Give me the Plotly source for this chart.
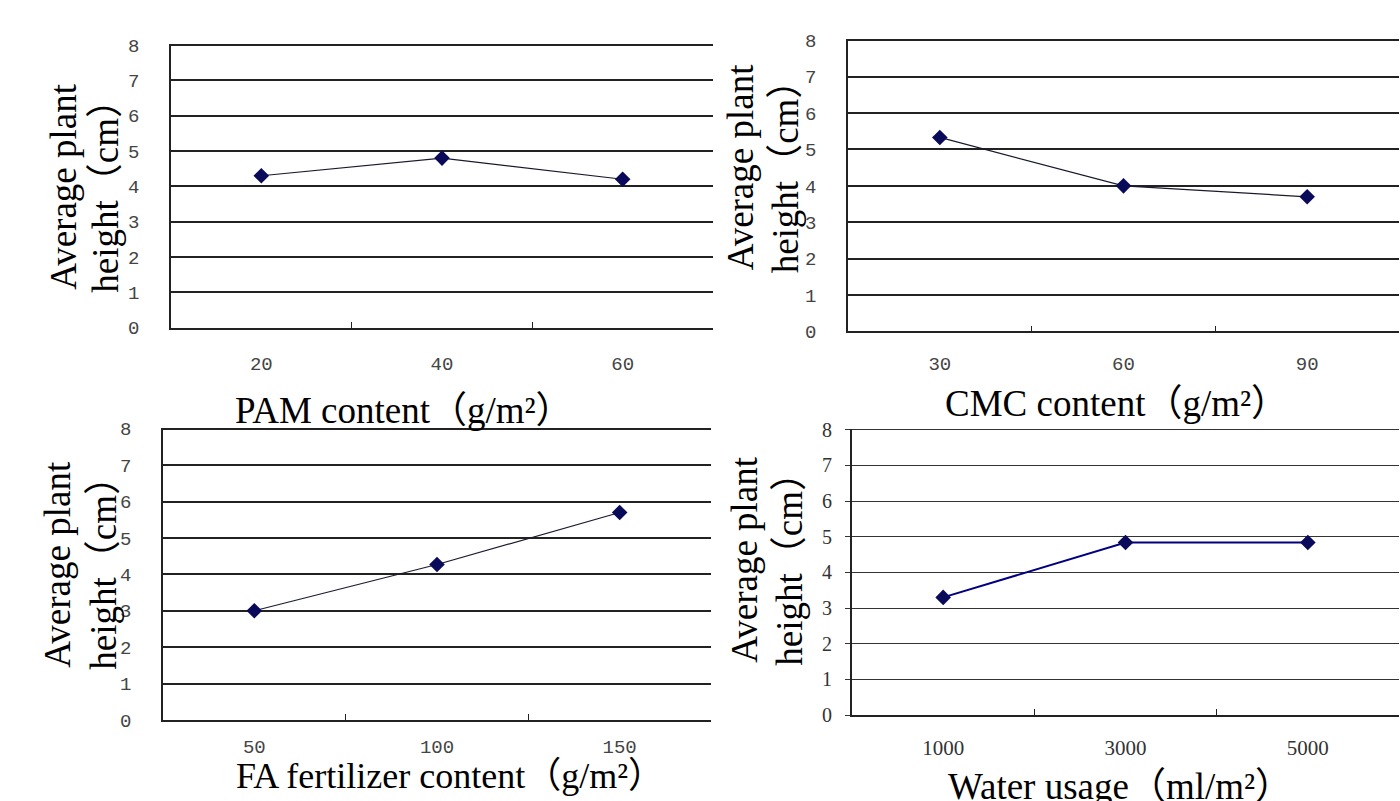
import plotly.graph_objects as go

# ---- data ----
pam_cats = ["20", "40", "60"]
pam_vals = [4.3, 4.8, 4.2]

cmc_cats = ["30", "60", "90"]
cmc_vals = [5.33, 4.0, 3.7]

fa_cats = ["50", "100", "150"]
fa_vals = [3.0, 4.27, 5.7]

water_cats = ["1000", "3000", "5000"]
water_vals = [3.3, 4.84, 4.84]

y_ticks = [0, 1, 2, 3, 4, 5, 6, 7, 8]

W, H = 1400, 801


def px(x):
    return x / W


def py(y):
    return 1 - y / H


panels = [
    dict(cats=pam_cats, vals=pam_vals, x0=171, x1=713, yt=35, yb=327,
         lc="#1a1a2e", lw=1.2, mono=True, xstand=18),
    dict(cats=cmc_cats, vals=cmc_vals, x0=848, x1=1399, yt=30, yb=331,
         lc="#1a1a2e", lw=1.2, mono=True, xstand=14),
    dict(cats=fa_cats, vals=fa_vals, x0=163, x1=711, yt=430, yb=731,
         lc="#1a1a2e", lw=1.2, mono=True, xstand=8),
    dict(cats=water_cats, vals=water_vals, x0=852, x1=1399, yt=431, yb=726,
         lc="#000080", lw=2, mono=False, xstand=13),
]

fig = go.Figure()

for i, p in enumerate(panels, start=1):
    xa = "x" if i == 1 else f"x{i}"
    ya = "y" if i == 1 else f"y{i}"
    fig.add_trace(go.Scatter(
        x=p["cats"], y=p["vals"], xaxis=xa, yaxis=ya,
        mode="lines+markers",
        line=dict(color=p["lc"], width=p["lw"]),
        marker=dict(symbol="diamond", size=12, color="#0a0a5a"),
        showlegend=False, hoverinfo="skip",
    ))
    if p["mono"]:
        xfont = dict(family="Liberation Mono, monospace", size=19, color="#444444")
        yfont = dict(family="Liberation Mono, monospace", size=19, color="#444444")
        gridw = 1.8
        gridc = "#222222"
        yticks = ""
        ystand = 26
    else:
        xfont = dict(family="Liberation Serif, serif", size=21, color="#333333")
        yfont = dict(family="Liberation Serif, serif", size=20, color="#333333")
        gridw = 1.1
        gridc = "#333333"
        yticks = "outside"
        ystand = 9
    xkey = "xaxis" if i == 1 else f"xaxis{i}"
    ykey = "yaxis" if i == 1 else f"yaxis{i}"
    fig.update_layout({
        xkey: dict(
            domain=[px(p["x0"]), px(p["x1"])],
            anchor=ya, type="category", range=[-0.5, 2.5],
            showline=True, linecolor="#222222", linewidth=1.8,
            ticks="inside", tickson="boundaries", ticklen=6,
            tickcolor="#222222", tickwidth=1.3,
            showgrid=False, zeroline=False,
            tickfont=xfont, ticklabelstandoff=p["xstand"],
        ),
        ykey: dict(
            domain=[py(p["yb"]), py(p["yt"])],
            anchor=xa, range=[0, 8.03], tickvals=y_ticks,
            showline=True, linecolor="#222222", linewidth=1.8,
            showgrid=True, gridcolor=gridc, gridwidth=gridw,
            zeroline=False, ticks=yticks, ticklen=5, tickcolor="#333333",
            tickfont=yfont, ticklabelstandoff=ystand,
        ),
    })

title_font = dict(family="Liberation Serif, Noto Sans CJK SC, serif", size=37, color="black")

annotations = []
ytitles = [
    (64, 106, 182),
    (740, 785, 162),
    (58, 104, 570),
    (745, 790, 566),
]
for xa_, xb_, yc in ytitles:
    annotations.append(dict(text="Average plant", x=px(xa_), y=py(yc), xref="paper", yref="paper",
                            textangle=-90, showarrow=False, font=title_font,
                            xanchor="center", yanchor="middle"))
    annotations.append(dict(text="height（cm）", x=px(xb_), y=py(yc), xref="paper", yref="paper",
                            textangle=-90, showarrow=False, font=title_font,
                            xanchor="center", yanchor="middle"))

xtitles = [
    ("PAM content（g/m²）", 404, 412, 37),
    ("CMC content（g/m²）", 1116, 405, 37),
    ("FA fertilizer content（g/m²）", 450, 789, 36),
    ("Water usage（ml/m²）", 1120, 799, 37),
]
for t, xc, yc, fs in xtitles:
    annotations.append(dict(text=t, x=px(xc), y=py(yc), xref="paper", yref="paper",
                            showarrow=False, font=dict(title_font, size=fs),
                            xanchor="center", yanchor="middle"))

fig.update_layout(
    width=W, height=H,
    margin=dict(l=0, r=0, t=0, b=0),
    paper_bgcolor="white", plot_bgcolor="white",
    annotations=annotations,
)

fig.write_html(
    "out.html",
    config={"displayModeBar": False},
    post_script="document.body.style.margin='0';document.body.style.overflow='hidden';",
)
